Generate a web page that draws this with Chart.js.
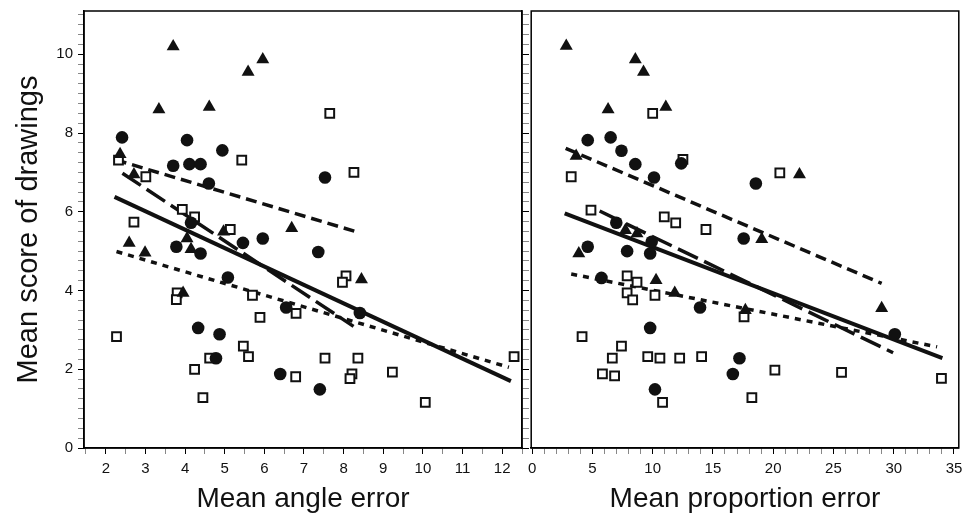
<!DOCTYPE html>
<html>
<head>
<meta charset="utf-8">
<title>Mean score of drawings</title>
<script src="https://cdn.jsdelivr.net/npm/chart.js@4.4.0/dist/chart.umd.min.js"></script>
<style>
    html, body { margin: 0; padding: 0; background: #fff; }
    #wrap { position: relative; width: 967px; height: 517px; }
    #angleBox { position: absolute; left: 0; top: 0; width: 531px; height: 517px; }
    #propBox { position: absolute; left: 523px; top: 0; width: 444px; height: 517px; }
</style>
</head>
<body>
<div id="wrap">
    <div id="angleBox"><canvas id="angleChart"></canvas></div>
    <div id="propBox"><canvas id="propChart"></canvas></div>
</div>
<script>
// Data: [x, y] pairs

// Left panel: mean angle error
const angleTriangles = [
    [3.70, 10.20], [5.59, 9.55], [5.96, 9.87], [3.34, 8.60], [4.61, 8.66],
    [2.36, 7.46], [2.71, 6.95], [6.69, 5.58], [2.59, 5.21], [2.99, 4.96],
    [4.05, 5.32], [4.15, 5.05], [4.97, 5.49], [3.95, 3.94], [8.45, 4.28]
];
const angleCircles = [
    [2.41, 7.89], [4.05, 7.82], [4.94, 7.56], [3.70, 7.17], [4.11, 7.21],
    [4.39, 7.21], [4.60, 6.72], [4.15, 5.72], [7.53, 6.87], [3.78, 5.11],
    [4.39, 4.94], [5.46, 5.21], [5.96, 5.32], [5.08, 4.33], [4.33, 3.05],
    [4.87, 2.89], [4.78, 2.28], [6.40, 1.88], [7.36, 4.98], [6.55, 3.57],
    [8.41, 3.43], [7.40, 1.49]
];
const angleSquares = [
    [2.32, 7.31], [5.43, 7.31], [3.01, 6.89], [3.93, 6.06], [4.24, 5.87],
    [2.71, 5.74], [5.14, 5.55], [7.65, 8.50], [8.26, 7.00], [3.80, 3.94],
    [3.78, 3.77], [5.70, 3.88], [5.89, 3.32], [2.27, 2.83], [5.47, 2.59],
    [5.60, 2.32], [4.62, 2.28], [4.24, 2.00], [4.45, 1.28], [8.06, 4.37],
    [7.97, 4.21], [6.80, 3.42], [7.53, 2.28], [8.36, 2.28], [6.79, 1.81],
    [8.21, 1.88], [8.16, 1.76], [9.23, 1.93], [10.06, 1.16], [12.30, 2.32]
];
// fitted lines (end points)
const angleFitAll = [[2.22, 6.38], [12.22, 1.70]];
const angleFitTri = [[2.25, 7.32], [8.33, 5.49]];
const angleFitCirc = [[2.42, 6.98], [8.25, 3.09]];
const angleFitSq = [[2.27, 4.99], [12.17, 2.05]];

// Right panel: mean proportion error
const propTriangles = [
    [2.83, 10.21], [8.56, 9.87], [9.24, 9.55], [6.30, 8.60], [11.09, 8.66],
    [3.65, 7.42], [22.18, 6.95], [7.74, 5.53], [8.70, 5.45], [3.87, 4.94],
    [10.28, 4.26], [11.83, 3.94], [17.69, 3.50], [19.05, 5.30], [29.0, 3.55]
];
const propCircles = [
    [4.61, 7.82], [6.51, 7.89], [7.41, 7.55], [8.56, 7.21], [10.11, 6.87],
    [12.37, 7.23], [6.98, 5.72], [9.92, 5.24], [7.88, 5.00], [9.79, 4.94],
    [4.61, 5.11], [17.55, 5.32], [5.75, 4.32], [13.93, 3.57], [9.79, 3.05],
    [17.20, 2.28], [16.65, 1.88], [10.19, 1.49], [30.09, 2.89], [18.56, 6.72]
];
const propSquares = [
    [10.0, 8.50], [12.51, 7.33], [3.24, 6.89], [4.88, 6.04], [10.96, 5.87],
    [11.91, 5.72], [14.42, 5.55], [20.55, 6.99], [7.88, 4.37], [8.70, 4.21],
    [7.88, 3.94], [8.34, 3.76], [10.19, 3.88], [17.58, 3.33], [4.14, 2.83],
    [7.41, 2.59], [6.65, 2.28], [9.59, 2.32], [10.60, 2.28], [12.24, 2.28],
    [14.06, 2.32], [5.83, 1.88], [6.84, 1.83], [10.82, 1.16], [20.14, 1.98],
    [25.67, 1.92], [18.23, 1.28], [33.96, 1.77]
];
const propFitAll = [[2.70, 5.96], [34.04, 2.28]];
const propFitTri = [[2.78, 7.61], [29.0, 4.18]];
const propFitCirc = [[5.60, 6.02], [29.95, 2.42]];
const propFitSq = [[3.24, 4.42], [33.6, 2.57]];

// Axis settings
const yMin = 0, yMax = 11.1;
const angleXMin = 1.45, angleXMax = 12.5;
const propXMin = -0.08, propXMax = 35.4;

const FONT = '"Liberation Sans", Arial, Helvetica, sans-serif';
const INK = '#111';

const toPoints = arr => arr.map(([x, y]) => ({ x, y }));

function isMajor(value, every) {
    const r = Math.round(value);
    return Math.abs(value - r) < 1e-6 && r % every === 0;
}

function labelEvery(every) {
    return value => isMajor(value, every) ? String(Math.round(value)) : '';
}

function tickColor(every) {
    return ctx => (ctx.tick && isMajor(ctx.tick.value, every)) ? '#000' : '#888';
}

// draw a box round the plot area
const framePlugin = {
    id: 'frame',
    beforeDatasetsDraw(chart) {
        const { ctx, chartArea: a } = chart;
        ctx.save();
        ctx.strokeStyle = '#000';
        ctx.lineWidth = 1.5;
        ctx.strokeRect(a.left, a.top, a.right - a.left, a.bottom - a.top);
        ctx.restore();
    }
};

function buildDatasets(tri, circ, sq, fitAll, fitTri, fitCirc, fitSq) {
    const fitLine = (data, dash, width) => ({
        data: toPoints(data),
        showLine: true,
        borderColor: INK,
        borderWidth: width,
        borderDash: dash,
        borderCapStyle: 'butt',
        pointRadius: 0,
        order: 2
    });
    return [
        { data: toPoints(tri), pointStyle: 'triangle', pointRadius: 7.5, backgroundColor: INK, borderColor: INK, borderWidth: 0, order: 0 },
        { data: toPoints(circ), pointStyle: 'circle', pointRadius: 6.3, backgroundColor: INK, borderColor: INK, borderWidth: 0, order: 0 },
        { data: toPoints(sq), pointStyle: 'rect', pointRadius: 6.2, backgroundColor: '#fff', borderColor: INK, borderWidth: 2, order: 0 },
        fitLine(fitAll, [], 4),
        fitLine(fitTri, [11, 6], 3.5),
        fitLine(fitCirc, [22, 7], 3.5),
        fitLine(fitSq, [6, 6], 3.5)
    ];
}

function xAxis(min, max, step, every, title) {
    return {
        type: 'linear',
        position: 'bottom',
        min: min,
        max: max,
        // fixed height, and no extra room for the end labels
        afterFit: s => { s.height = 69; s.paddingLeft = 0; s.paddingRight = 0; },
        border: { color: '#000', width: 1.5 },
        grid: { drawOnChartArea: false, tickLength: 6, color: tickColor(every), lineWidth: 1 },
        ticks: {
            stepSize: step,
            autoSkip: false,
            includeBounds: false,
            maxRotation: 0,
            maxTicksLimit: 1000,
            padding: 6,
            color: INK,
            font: { family: FONT, size: 15 },
            callback: labelEvery(every)
        },
        title: {
            display: true,
            text: title,
            color: INK,
            font: { family: FONT, size: 28 },
            padding: { top: 0, bottom: 1 }
        }
    };
}

function yTicksOnly(position, width, showLabels) {
    return {
        type: 'linear',
        position: position,
        min: yMin,
        max: yMax,
        afterFit: s => { s.width = width; s.paddingTop = 0; s.paddingBottom = 0; },
        border: { color: '#000', width: 1.5 },
        grid: { drawOnChartArea: false, tickLength: position === 'left' ? 6 : 7, color: tickColor(2), lineWidth: 1 },
        ticks: {
            stepSize: 0.25,
            autoSkip: false,
            includeBounds: false,
            maxTicksLimit: 1000,
            padding: 5,
            color: INK,
            font: { family: FONT, size: 15 },
            callback: showLabels ? labelEvery(2) : () => ''
        }
    };
}

const commonOptions = {
    responsive: true,
    maintainAspectRatio: false,
    animation: false,
    plugins: { legend: { display: false }, tooltip: { enabled: false } }
};

// Left panel
const angleY = yTicksOnly('left', 84, true);
angleY.title = {
    display: true,
    text: 'Mean score of drawings',
    color: INK,
    font: { family: FONT, size: 29 },
    padding: { top: 12, bottom: 0 }
};

new Chart(document.getElementById('angleChart'), {
    type: 'scatter',
    data: { datasets: buildDatasets(angleTriangles, angleCircles, angleSquares, angleFitAll, angleFitTri, angleFitCirc, angleFitSq) },
    options: {
        ...commonOptions,
        layout: { padding: { top: 11, right: 1, bottom: 0, left: 0 } },
        scales: {
            x: xAxis(angleXMin, angleXMax, 0.5, 1, 'Mean angle error'),
            y: angleY,
            y2: yTicksOnly('right', 8, false)
        }
    },
    plugins: [framePlugin]
});

// Right panel
const propY = yTicksOnly('left', 0, false);
propY.display = false;

new Chart(document.getElementById('propChart'), {
    type: 'scatter',
    data: { datasets: buildDatasets(propTriangles, propCircles, propSquares, propFitAll, propFitTri, propFitCirc, propFitSq) },
    options: {
        ...commonOptions,
        layout: { padding: { top: 11, right: 2, bottom: 0, left: 8 } },
        scales: {
            x: xAxis(propXMin, propXMax, 1, 5, 'Mean proportion error'),
            y: propY
        }
    },
    plugins: [framePlugin]
});
</script>
</body>
</html>
